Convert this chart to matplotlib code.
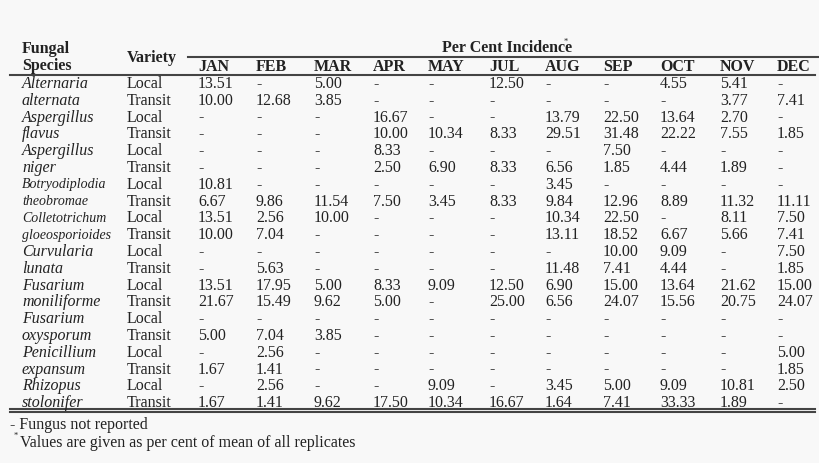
import matplotlib
matplotlib.use("Agg")
import matplotlib.pyplot as plt
from matplotlib.lines import Line2D

W, H = 820, 463
months = ["JAN","FEB","MAR","APR","MAY","JUL","AUG","SEP","OCT","NOV","DEC"]
species_lines = ["Alternaria","alternata","Aspergillus","flavus","Aspergillus","niger",
                 "Botryodiplodia","theobromae","Colletotrichum","gloeosporioides",
                 "Curvularia","lunata","Fusarium","moniliforme","Fusarium","oxysporum",
                 "Penicillium","expansum","Rhizopus","stolonifer"]
small_species = {"Botryodiplodia","theobromae","Colletotrichum","gloeosporioides"}
varieties = ["Local","Transit"] * 10
values = [
 ["13.51","-","5.00","-","-","12.50","-","-","4.55","5.41","-"],
 ["10.00","12.68","3.85","-","-","-","-","-","-","3.77","7.41"],
 ["-","-","-","16.67","-","-","13.79","22.50","13.64","2.70","-"],
 ["-","-","-","10.00","10.34","8.33","29.51","31.48","22.22","7.55","1.85"],
 ["-","-","-","8.33","-","-","-","7.50","-","-","-"],
 ["-","-","-","2.50","6.90","8.33","6.56","1.85","4.44","1.89","-"],
 ["10.81","-","-","-","-","-","3.45","-","-","-","-"],
 ["6.67","9.86","11.54","7.50","3.45","8.33","9.84","12.96","8.89","11.32","11.11"],
 ["13.51","2.56","10.00","-","-","-","10.34","22.50","-","8.11","7.50"],
 ["10.00","7.04","-","-","-","-","13.11","18.52","6.67","5.66","7.41"],
 ["-","-","-","-","-","-","-","10.00","9.09","-","7.50"],
 ["-","5.63","-","-","-","-","11.48","7.41","4.44","-","1.85"],
 ["13.51","17.95","5.00","8.33","9.09","12.50","6.90","15.00","13.64","21.62","15.00"],
 ["21.67","15.49","9.62","5.00","-","25.00","6.56","24.07","15.56","20.75","24.07"],
 ["-","-","-","-","-","-","-","-","-","-","-"],
 ["5.00","7.04","3.85","-","-","-","-","-","-","-","-"],
 ["-","2.56","-","-","-","-","-","-","-","-","5.00"],
 ["1.67","1.41","-","-","-","-","-","-","-","-","1.85"],
 ["-","2.56","-","-","9.09","-","3.45","5.00","9.09","10.81","2.50"],
 ["1.67","1.41","9.62","17.50","10.34","16.67","1.64","7.41","33.33","1.89","-"],
]
footnotes = ["- Fungus not reported", "Values are given as per cent of mean of all replicates"]

plt.rcParams['font.family'] = ['Liberation Serif', 'DejaVu Serif']
fig = plt.figure(figsize=(W/100, H/100), dpi=100)
fig.patch.set_facecolor("#f8f8f8")
C = "#222222"

def T(x, y, s, **kw):
    kw.setdefault("fontsize", 11.5)
    kw.setdefault("color", C)
    fig.text(x/W, 1-y/H, s, va="center", ha="left", **kw)

def L(x0, x1, y, lw):
    fig.add_artist(Line2D([x0/W, x1/W], [1-y/H, 1-y/H], color="#444444", lw=lw))

colx = [198,256,314,373,428,489,545,603,660,720,777]
T(22, 49, "Fungal", fontweight="bold")
T(22, 66, "Species", fontweight="bold")
T(127, 58, "Variety", fontweight="bold")
T(442, 48, "Per Cent Incidence", fontweight="bold")
T(564, 42, "*", fontsize=6)
for x, m in zip(colx, months):
    T(x, 67, m, fontweight="bold")
L(188, 818, 57, 1.5)
L(10, 815, 75, 1.5)
y0, dy = 84, 16.8
for i in range(20):
    y = y0 + i*dy
    sp = species_lines[i]
    T(22, y, sp, style="italic", fontsize=10 if sp in small_species else 11.5)
    T(127, y, varieties[i])
    for x, v in zip(colx, values[i]):
        T(x, y, v)
L(10, 815, 409, 1.5)
L(10, 815, 412, 1.5)
T(10, 425, footnotes[0])
T(20, 443, footnotes[1])
T(14, 436, "*", fontsize=6)
fig.savefig("out.png", dpi=100, facecolor=fig.get_facecolor())
